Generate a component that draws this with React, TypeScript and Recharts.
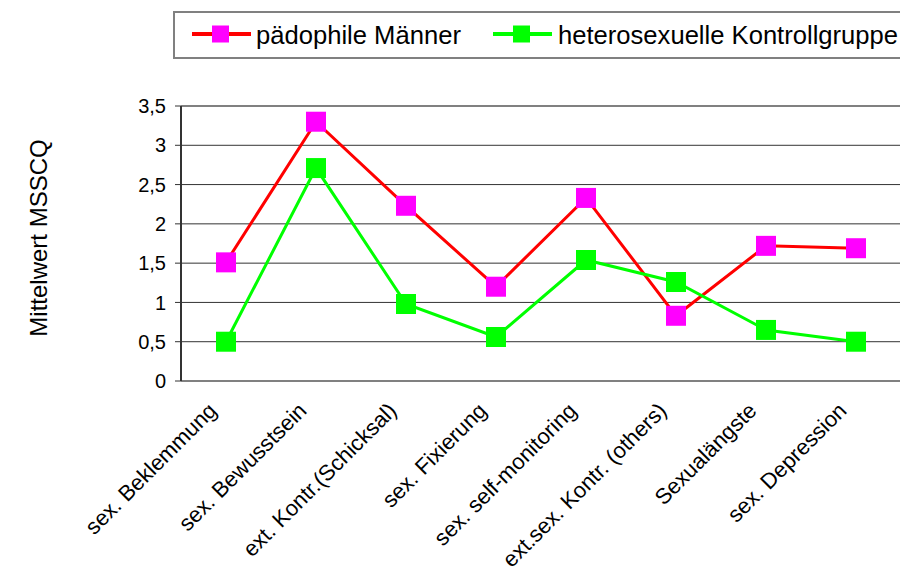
import { LineChart, Line, XAxis, YAxis, CartesianGrid, ReferenceLine } from "recharts";

const CATEGORIES = [
  "sex. Beklemmung",
  "sex. Bewusstsein",
  "ext. Kontr.(Schicksal)",
  "sex. Fixierung",
  "sex. self-monitoring",
  "ext.sex. Kontr. (others)",
  "Sexualängste",
  "sex. Depression",
];

const PAEDOPHILE = [1.51, 3.3, 2.23, 1.2, 2.33, 0.83, 1.72, 1.69];
const KONTROLLE = [0.5, 2.71, 0.98, 0.56, 1.54, 1.26, 0.65, 0.5];

const Y_TICKS = [0, 0.5, 1, 1.5, 2, 2.5, 3, 3.5];

const SERIES = [
  { key: "p", name: "pädophile Männer", line: "#FF0000", marker: "#FF00FF" },
  { key: "k", name: "heterosexuelle Kontrollgruppe", line: "#00FF00", marker: "#00FF00" },
];

const FONT = "'Liberation Sans', Arial, sans-serif";

const data = CATEGORIES.map((c, i) => ({ cat: c, p: PAEDOPHILE[i], k: KONTROLLE[i] }));

const fmt = (v: number) => String(v).replace(".", ",");

function squareDot(fill: string) {
  return (props: any) => {
    const { cx, cy, index } = props;
    if (cx == null || cy == null) return <g key={index} />;
    return <rect key={index} x={cx - 10} y={cy - 10} width={20} height={20} fill={fill} />;
  };
}

function CatTick(props: any) {
  const { x, y, payload } = props;
  const ax = x - 8;
  const ay = y + 31;
  return (
    <text
      x={ax}
      y={ay}
      transform={`rotate(-45 ${ax} ${ay})`}
      textAnchor="end"
      fontSize={22}
      fontFamily={FONT}
      fill="#000"
    >
      {payload.value}
    </text>
  );
}

// legend drawn as a plain box over the chart, like the Excel original
function LegendBox() {
  const items = [
    { s: SERIES[0], lx: 192, tx: 256 },
    { s: SERIES[1], lx: 493, tx: 558 },
  ];
  const left = 173;
  return (
    <div
      style={{
        position: "absolute",
        left,
        top: 11,
        width: 760,
        height: 44,
        border: "2px solid #808080",
      }}
    >
      <svg width={760} height={48} style={{ position: "absolute", left: -2, top: -2 }}>
        {items.map(({ s, lx, tx }) => (
          <g key={s.key}>
            <line x1={lx - left} x2={lx - left + 59} y1={23} y2={23} stroke={s.line} strokeWidth={4} />
            <rect x={lx - left + 20} y={14.5} width={17} height={17} fill={s.marker} />
            <text x={tx - left} y={24} dominantBaseline="central" fontSize={25.6} fontFamily={FONT} fill="#000">
              {s.name}
            </text>
          </g>
        ))}
      </svg>
    </div>
  );
}

export default function App() {
  return (
    <div style={{ position: "absolute", left: 0, top: 0, width: 900, height: 574, overflow: "hidden", background: "#fff" }}>
      <LegendBox />
      <LineChart
        width={901}
        height={574}
        data={data}
        margin={{ top: 106, right: 0, left: 0, bottom: 43 }}
      >
        <CartesianGrid horizontal vertical={false} stroke="#333" strokeWidth={1} />
        <XAxis
          dataKey="cat"
          height={150}
          padding={{ left: 45, right: 45 }}
          interval={0}
          tickLine={false}
          tickSize={0}
          tickMargin={0}
          axisLine={{ stroke: "#808080", strokeWidth: 2 }}
          tick={<CatTick />}
        />
        <YAxis
          width={181}
          domain={[0, 3.5]}
          ticks={Y_TICKS}
          tickFormatter={fmt}
          interval={0}
          tickSize={6}
          tickMargin={9}
          axisLine={{ stroke: "#333", strokeWidth: 2 }}
          tickLine={{ stroke: "#333" }}
          tick={{ fontSize: 20, fontFamily: FONT, fill: "#000" }}
          label={{
            content: () => (
              <text
                x={38}
                y={238}
                transform="rotate(-90 38 238)"
                textAnchor="middle"
                dominantBaseline="central"
                fontSize={24}
                fontFamily={FONT}
                fill="#000"
              >
                Mittelwert MSSCQ
              </text>
            ),
          }}
        />
        <ReferenceLine y={3.5} stroke="#808080" strokeWidth={2} />
        {SERIES.map((s) => (
          <Line
            key={s.key}
            dataKey={s.key}
            name={s.name}
            type="linear"
            stroke={s.line}
            strokeWidth={3}
            dot={squareDot(s.marker)}
            activeDot={false}
            isAnimationActive={false}
          />
        ))}
      </LineChart>
    </div>
  );
}
